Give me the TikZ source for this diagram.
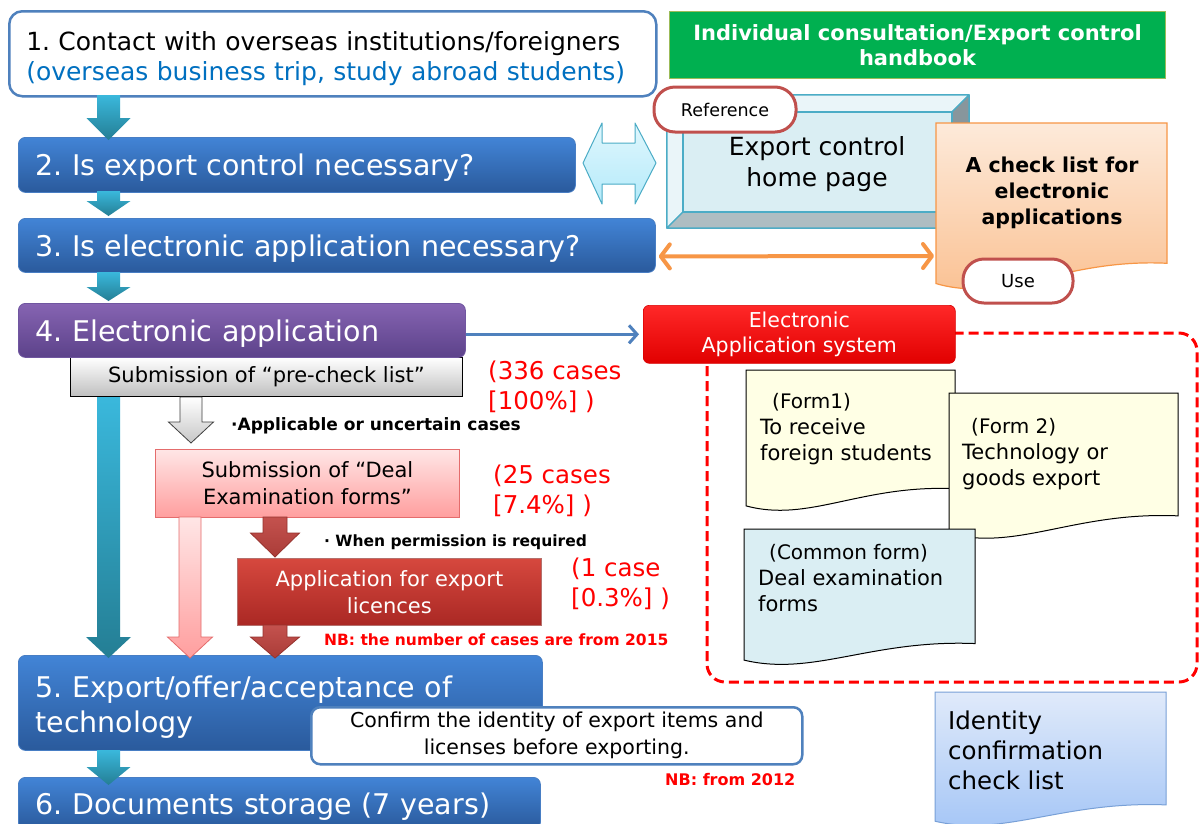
\documentclass[tikz,border=0pt]{standalone}
\usepackage{fontspec}
\setmainfont{DejaVu Sans}
\usetikzlibrary{arrows.meta}
\frenchspacing
\definecolor{hdtop}{RGB}{66,132,214}
\definecolor{hdbot}{RGB}{42,90,156}
\definecolor{hdedge}{RGB}{72,126,196}
\definecolor{putop}{RGB}{134,100,178}
\definecolor{pubot}{RGB}{92,66,138}
\definecolor{puedge}{RGB}{112,86,160}
\definecolor{tltop}{RGB}{58,184,220}
\definecolor{tlbot}{RGB}{36,126,148}
\definecolor{linkblue}{RGB}{0,112,192}
\definecolor{frameblue}{RGB}{79,129,189}
\definecolor{pillred}{RGB}{192,80,77}
\definecolor{grfill}{RGB}{0,176,80}
\definecolor{gredge}{RGB}{155,187,89}
\definecolor{cyedge}{RGB}{75,172,198}
\definecolor{cytop}{RGB}{224,247,253}
\definecolor{cybot}{RGB}{180,234,250}
\definecolor{ortop}{RGB}{253,234,218}
\definecolor{orbot}{RGB}{250,191,143}
\definecolor{oredge}{RGB}{247,150,70}
\definecolor{pktop}{RGB}{255,230,230}
\definecolor{pkbot}{RGB}{255,158,158}
\definecolor{pkedge}{RGB}{228,108,108}
\definecolor{drtop}{RGB}{214,72,62}
\definecolor{drbot}{RGB}{170,40,36}
\definecolor{dredge}{RGB}{150,50,45}
\definecolor{drarr}{RGB}{196,82,78}
\definecolor{drarrbot}{RGB}{170,60,56}
\definecolor{formyel}{RGB}{255,255,229}
\definecolor{formcy}{RGB}{218,238,243}
\definecolor{idtop}{RGB}{224,234,250}
\definecolor{idbot}{RGB}{162,196,246}
\definecolor{idedge}{RGB}{120,160,215}
\definecolor{bvface}{RGB}{218,238,243}
\definecolor{bvlight}{RGB}{234,245,249}
\definecolor{bvbot}{RGB}{174,189,194}
\definecolor{bvright}{RGB}{136,150,156}
\definecolor{systop}{RGB}{255,40,40}
\definecolor{sysbot}{RGB}{225,0,0}
\definecolor{nbred}{RGB}{255,0,0}
\newcommand\setfs[2]{\fontsize{#1}{#2}\selectfont}
% vertical block arrow: style, x, ytop, ybottom, shaft width, head width, head length
\newcommand\vblock[7]{%
  \path[#1] ({#2-#5/2},#3) -- ({#2+#5/2},#3) -- ({#2+#5/2},{#4-#7}) -- ({#2+#6/2},{#4-#7})
    -- (#2,#4) -- ({#2-#6/2},{#4-#7}) -- ({#2-#5/2},{#4-#7}) -- cycle;}
% document shape: style, x0, y0, x1, y1
\newcommand\docshape[5]{%
  \path[#1] (#2,#3) -- (#4,#3) -- (#4,{#5-0.17*(#5-#3)})
    .. controls ({#2+0.55*(#4-#2)},{#5-0.2*(#5-#3)}) and ({#2+0.3*(#4-#2)},{#5+0.07*(#5-#3)})
    .. (#2,{#5-0.05*(#5-#3)}) -- cycle;}
\tikzset{
  heading/.style={anchor=north west, draw=hdedge, line width=0.8pt, rounded corners=7pt,
    top color=hdtop, bottom color=hdbot, text=white, align=left, inner xsep=17pt, inner ysep=0pt,
    text depth=0pt, font=\setfs{28.5}{35}},
  tealarrow/.style={top color=tltop, bottom color=tlbot},
  pill/.style={draw=pillred, line width=3pt, fill=white, rounded corners=21pt, inner sep=0pt},
  counttext/.style={anchor=west, align=left, inner sep=0pt, text=nbred, font=\setfs{24.5}{30}},
  nbtext/.style={anchor=west, inner sep=0pt, text=nbred, font=\bfseries\setfs{15.5}{19}},
  formtext/.style={anchor=west, align=left, inner sep=0pt, font=\setfs{21}{26}},
}
\begin{document}
\begin{tikzpicture}[x=1pt,y=-1pt]
\useasboundingbox (0,0) rectangle (1199,823);
\clip (0,0) rectangle (1199,823);
\fill[white] (0,0) rectangle (1199,823);

% ---------- left column ----------
\node[anchor=north west, draw=frameblue, line width=2.5pt, rounded corners=13pt, fill=white,
  text width=613pt, minimum height=85pt, align=left, inner xsep=17pt, inner ysep=0pt,
  text height=19pt, text depth=26pt, font=\setfs{25}{30}] (b1) at (8,10)
  {1. Contact with overseas institutions/foreigners\\\textcolor{linkblue}{(overseas business trip, study abroad students)}};

\node[heading, text width=523pt, minimum height=55pt] (b2) at (18,137) {2. Is export control necessary?};
\node[heading, text width=603pt, minimum height=54pt] (b3) at (18,218) {3. Is electronic application necessary?};

\node[anchor=north west, draw=black, line width=0.8pt, top color=white, bottom color=black!25,
  minimum width=392pt, minimum height=39pt, inner sep=0pt, font=\setfs{21}{26}] (pc) at (70,357)
  {Submission of “pre-check list”};
\node[heading, top color=putop, bottom color=pubot, draw=puedge, text width=413pt, minimum height=54pt]
  (b4) at (18,303) {4. Electronic application};

\node[anchor=north west, draw=pkedge, line width=0.8pt, top color=pktop, bottom color=pkbot,
  minimum width=304pt, minimum height=68pt, inner sep=0pt, align=center, font=\setfs{21}{27}] (de) at (155,449)
  {Submission of “Deal\\Examination forms”};
\node[anchor=north west, draw=dredge!70, line width=0.8pt, top color=drtop, bottom color=drbot, text=white,
  minimum width=304pt, minimum height=67pt, inner sep=0pt, align=center, font=\setfs{21}{27}] (al) at (237,558)
  {Application for export\\licences};

\node[heading, text width=490pt, minimum height=95pt, text height=21.7pt, text depth=31.7pt] (b5) at (18,655)
  {5. Export/offer/acceptance of\\technology};
\node[anchor=north west, draw=frameblue, line width=2.5pt, rounded corners=9pt, fill=white,
  minimum width=491pt, minimum height=57pt, inner sep=0pt, align=center, font=\setfs{20.5}{27}] (cf) at (310,706)
  {Confirm the identity of export items and\\licenses before exporting.};
\node[heading, text width=488pt, minimum height=52pt] (b6) at (18,777) {6. Documents storage (7 years)};

% block arrows
\vblock{tealarrow}{108.5}{95}{140}{23}{44}{22}
\vblock{tealarrow}{108.5}{191}{216}{23}{44}{15}
\vblock{tealarrow}{108.5}{272}{301}{23}{44}{14}
\vblock{tealarrow}{108.5}{397}{658}{23}{45}{21}
\vblock{tealarrow}{108.5}{750}{785}{23}{44}{18}
\vblock{draw=black!75, line width=0.8pt, top color=white, bottom color=black!22}{191}{397}{443}{22}{45}{21}
\vblock{draw=pkedge, line width=0.8pt, top color=pktop, bottom color=pkbot}{190}{517}{658}{22}{45}{21}
\vblock{draw=dredge, line width=0.8pt, top color=drarr, bottom color=drarrbot}{275}{517}{557}{24}{49}{24}
\vblock{draw=dredge, line width=0.8pt, top color=drarr, bottom color=drarrbot}{275}{625}{658}{24}{49}{21}

% annotations
\node[anchor=west, inner sep=0pt, font=\bfseries\setfs{17}{20}] (ap) at (231,426) {·Applicable or uncertain cases};
\node[anchor=west, inner sep=0pt, font=\bfseries\setfs{15.5}{19}] (wp) at (324,542) {· When permission is required};
\node[counttext] (c1) at (488,387) {(336 cases\\{[}100\%{]} )};
\node[counttext] (c2) at (493,491) {(25 cases\\{[}7.4\%{]} )};
\node[counttext] (c3) at (571,584) {(1 case\\{[}0.3\%{]} )};
\node[nbtext] (nb1) at (324,640) {NB: the number of cases are from 2015};
\node[nbtext, font=\bfseries\setfs{16}{19}] (nb2) at (665,780) {NB: from 2012};

% ---------- right column ----------
\node[anchor=north west, draw=gredge, line width=1pt, fill=grfill, text=white,
  minimum width=496pt, minimum height=67pt, inner sep=0pt, align=center, font=\bfseries\setfs{21}{25}] (gr) at (669,11)
  {Individual consultation/Export control\\handbook};

% bevel box
\begin{scope}[draw=cyedge, line width=1.2pt, line join=round]
  \filldraw[fill=bvface] (667,95) rectangle (969,228);
  \filldraw[fill=bvlight] (667,95) -- (969,95) -- (952,112) -- (683,112) -- cycle;
  \filldraw[fill=bvlight] (667,95) -- (683,112) -- (683,212) -- (667,228) -- cycle;
  \filldraw[fill=bvbot] (667,228) -- (683,212) -- (952,212) -- (969,228) -- cycle;
  \filldraw[fill=bvright] (969,95) -- (952,112) -- (952,212) -- (969,228) -- cycle;
  \filldraw[fill=bvface] (683,112) rectangle (952,212);
\end{scope}
\node[align=center, inner sep=0pt, font=\setfs{25}{31}] (hp) at (817,164) {Export control\\home page};
\node[pill, minimum width=142pt, minimum height=45pt, font=\setfs{17.5}{20}] (ref) at (725,109.5) {Reference};

% cyan double arrow
\path[draw=cyedge, line width=1pt, top color=cytop, bottom color=cybot, line join=round]
  (583,163) -- (602,123) -- (602,143) -- (635,143) -- (635,123) -- (656,163) -- (635,204)
  -- (635,184) -- (602,184) -- (602,204) -- cycle;

% orange check list document
\docshape{draw=oredge, line width=1.2pt, top color=ortop, bottom color=orbot}{936}{123}{1167}{292}
\node[align=center, inner sep=0pt, font=\bfseries\setfs{20.5}{26}] (ck) at (1052,193)
  {A check list for\\electronic\\applications};
\node[pill, minimum width=110pt, minimum height=44pt, font=\setfs{18}{20}] (use) at (1018,281) {Use};
\coordinate (ckw) at (934,256);
\draw[oredge, line width=4pt, line cap=round,
  {Straight Barb[round,length=9pt,width=24pt,line width=4pt]}-{Straight Barb[round,length=9pt,width=24pt,line width=4pt]}]
  ([yshift=-11pt]b3.east) ++(3,0) -- (ckw);

% electronic application system
\draw[red, line width=3pt, dash pattern=on 10pt off 5pt, rounded corners=18pt] (707,333) rectangle (1197,682);
\node[anchor=north west, draw=red!85!black, line width=0.6pt, rounded corners=6pt, top color=systop, bottom color=sysbot,
  text=white, minimum width=312pt, minimum height=58pt, inner sep=0pt, align=center, font=\setfs{20.5}{25.5}] (eas) at (643,305)
  {Electronic\\Application system};
\draw[frameblue, line width=3pt, shorten >=4pt, -{Straight Barb[length=8pt,width=18pt,line width=3pt]}]
  (eas.west -| b4.east) -- (eas.west);

% forms
\docshape{draw=black, line width=1pt, fill=formyel}{746}{370}{955}{513}
\node[formtext] (f1) at (760,429) {\hspace*{12pt}{\setfs{20}{26}(Form1)}\\To receive\\foreign students};
\docshape{draw=black, line width=1pt, fill=formyel}{949}{393}{1178}{541}
\node[formtext] (f2) at (962,454) {\hspace*{9pt}{\setfs{20}{26}(Form 2)}\\Technology or\\goods export};
\docshape{draw=black, line width=1pt, fill=formcy}{744}{529}{975}{667}
\node[formtext] (f3) at (758,578) {\hspace*{11pt}{\setfs{20}{26}(Common form)}\\Deal examination\\forms};

% identity confirmation check list
\docshape{draw=idedge, line width=1pt, top color=idtop, bottom color=idbot}{935}{692}{1166}{828}
\node[anchor=west, align=left, inner sep=0pt, font=\setfs{24.5}{30}] (id) at (948,750)
  {Identity\\confirmation\\check list};
\end{tikzpicture}
\end{document}
